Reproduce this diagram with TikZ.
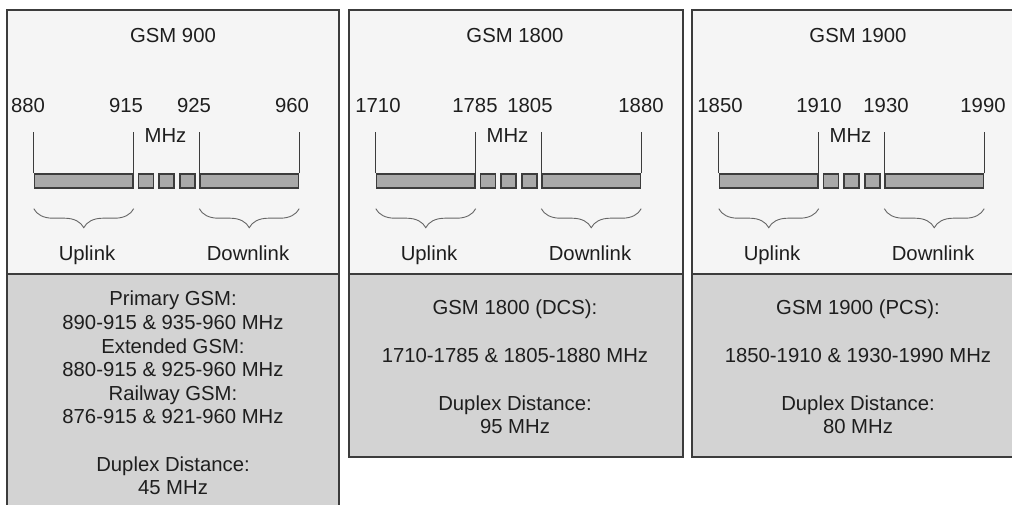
\documentclass[tikz,border=0pt]{standalone}
\usepackage{fontspec}
\setmainfont{Liberation Sans}
\usetikzlibrary{decorations.pathreplacing}
\definecolor{panelfill}{HTML}{F5F5F5}
\definecolor{infofill}{HTML}{D3D3D3}
\definecolor{bandfill}{HTML}{A9A9A9}
\definecolor{edge}{HTML}{3C3C3C}
\definecolor{ink}{HTML}{1E1E1E}
% #1 tag, #2 shift, #3 width, #4 title, #5 numbers, #6 bottom, #7 text top, #8 text
\newcommand{\gsmpanel}[8]{%
  \begin{scope}[xshift=#2]
    \draw[edge,line width=1.6,fill=panelfill](0,10)rectangle(#3,274);
    \draw[edge,line width=1.6,fill=infofill](0,274)rectangle(#3,#6);
    \node[txt,anchor=base](#1-title)at(166,43){#4};
    \foreach \x/\n in {#5}
      \node[txt,anchor=base](#1-n\n)at(\x,113){\n};
    \node[txt,anchor=base](#1-mhz)at(158.5,143){MHz};
    \node[band,minimum width=98.5](#1-up)at(76.75,181){};
    \node[band,minimum width=98.5](#1-dn)at(242.25,181){};
    \node[band,minimum width=15](#1-g1)at(139,181){};
    \node[band,minimum width=15](#1-g2)at(159.5,181){};
    \node[band,minimum width=15](#1-g3)at(180.5,181){};
    \draw[tick](#1-up.north west)--++(0,-41);
    \draw[tick](#1-up.north east)--++(0,-41);
    \draw[tick](#1-dn.north west)--++(0,-41);
    \draw[tick](#1-dn.north east)--++(0,-41);
    \draw[brc]([yshift=-20]#1-up.south west)--([yshift=-20]#1-up.south east);
    \draw[brc]([yshift=-20]#1-dn.south west)--([yshift=-20]#1-dn.south east);
    \node[txt,anchor=base](#1-ul)at(80,260){Uplink};
    \node[txt,anchor=base](#1-dl)at(241,260){Downlink};
    \node[txt,anchor=north,align=center](#1-info)at(166,#7){#8};
  \end{scope}}

\begin{document}
\begin{tikzpicture}[x=1pt,y=-1pt,
    txt/.style={ink,inner sep=0,font=\fontsize{20.3}{23.6}\selectfont},
    band/.style={draw=edge,line width=1.4,fill=bandfill,minimum height=14,inner sep=0},
    tick/.style={edge,line width=1.2},
    brc/.style={black!60,line width=.9,decorate,decoration={brace,mirror,amplitude=19}}]
    \useasboundingbox(0,0)rectangle(1012,505);
    \clip(0,0)rectangle(1012,505);
    \gsmpanel{p900}{7}{332}{GSM 900}{21/880,119/915,187/925,285/960}{520}{291}
      {Primary GSM:\\890-915 \& 935-960 MHz\\Extended GSM:\\880-915 \& 925-960 MHz\\Railway GSM:\\876-915 \& 921-960 MHz\\[23.6pt]Duplex Distance:\\45 MHz}
    \gsmpanel{p1800}{349}{334}{GSM 1800}{29/1710,126/1785,181/1805,292/1880}{457}{300}
      {GSM 1800 (DCS):\\[24pt]1710-1785 \& 1805-1880 MHz\\[24pt]Duplex Distance:\\95 MHz}
    \gsmpanel{p1900}{692}{330}{GSM 1900}{28/1850,127/1910,194/1930,291/1990}{457}{300}
      {GSM 1900 (PCS):\\[24pt]1850-1910 \& 1930-1990 MHz\\[24pt]Duplex Distance:\\80 MHz}
\end{tikzpicture}
\end{document}
